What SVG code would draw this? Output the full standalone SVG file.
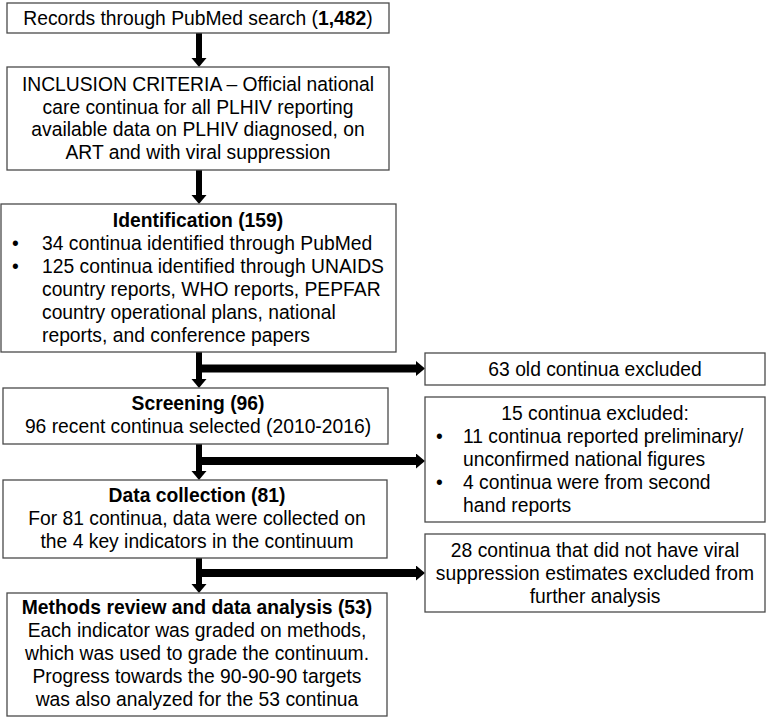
<svg xmlns="http://www.w3.org/2000/svg" width="767" height="720" viewBox="0 0 767 720">
<style>
.box{fill:#fff;stroke:#4a4a4a;stroke-width:1.3}
text{font-family:"Liberation Sans",Arial,sans-serif;font-size:19.3px;fill:#000}
.c{text-anchor:middle}
.b{font-weight:bold}
.v{stroke:#000;stroke-width:6;fill:none}
.h{stroke:#000;stroke-width:8;fill:none}
</style>
<defs>
<marker id="ah" markerUnits="userSpaceOnUse" markerWidth="10" markerHeight="16" refX="0" refY="7.5" orient="auto">
<path d="M0,0 L9,7.5 L0,15 Z" fill="#000"/>
</marker>
</defs>
<rect width="767" height="720" fill="#fff"/>
<g id="connectors">
<line class="v" x1="199" y1="33" x2="199" y2="58" marker-end="url(#ah)"/>
<line class="v" x1="199" y1="170" x2="199" y2="195" marker-end="url(#ah)"/>
<line class="v" x1="199" y1="352" x2="199" y2="379" marker-end="url(#ah)"/>
<line class="h" x1="196" y1="368.5" x2="416" y2="368.5" marker-end="url(#ah)"/>
<line class="v" x1="199" y1="444" x2="199" y2="471" marker-end="url(#ah)"/>
<line class="h" x1="196" y1="461" x2="416" y2="461" marker-end="url(#ah)"/>
<line class="v" x1="199" y1="558" x2="199" y2="584" marker-end="url(#ah)"/>
<line class="h" x1="196" y1="573" x2="416" y2="573" marker-end="url(#ah)"/>
</g>
<g id="records">
<rect class="box" x="7" y="3" width="382" height="30"/>
<text class="c" x="198" y="25">Records through PubMed search (<tspan class="b">1,482</tspan>)</text>
</g>
<g id="inclusion">
<rect class="box" x="7" y="67" width="382" height="103"/>
<text class="c" x="198" y="91">INCLUSION CRITERIA – Official national</text>
<text class="c" x="198" y="113.5">care continua for all PLHIV reporting</text>
<text class="c" x="198" y="136">available data on PLHIV diagnosed, on</text>
<text class="c" x="198" y="158.5">ART and with viral suppression</text>
</g>
<g id="identification">
<rect class="box" x="1" y="204" width="395" height="148"/>
<text class="c b" x="198" y="227">Identification (159)</text>
<text x="12" y="250">•</text><text x="42" y="250">34 continua identified through PubMed</text>
<text x="12" y="273">•</text><text x="42" y="273">125 continua identified through UNAIDS</text>
<text x="42" y="296">country reports, WHO reports, PEPFAR</text>
<text x="42" y="319">country operational plans, national</text>
<text x="42" y="342">reports, and conference papers</text>
</g>
<g id="old-excluded">
<rect class="box" x="425" y="353" width="340" height="32"/>
<text class="c" x="595" y="376">63 old continua excluded</text>
</g>
<g id="screening">
<rect class="box" x="3" y="388" width="385" height="56"/>
<text class="c b" x="198" y="410">Screening (96)</text>
<text class="c" x="198" y="433">96 recent continua selected (2010-2016)</text>
</g>
<g id="excluded-15">
<rect class="box" x="425" y="397" width="340" height="125"/>
<text class="c" x="595" y="420">15 continua excluded:</text>
<text x="436" y="443">•</text><text x="463" y="443">11 continua reported preliminary/</text>
<text x="463" y="466">unconfirmed national figures</text>
<text x="436" y="489">•</text><text x="463" y="489">4 continua were from second</text>
<text x="463" y="512">hand reports</text>
</g>
<g id="data-collection">
<rect class="box" x="3" y="480" width="384" height="78"/>
<text class="c b" x="197" y="502">Data collection (81)</text>
<text class="c" x="197" y="525">For 81 continua, data were collected on</text>
<text class="c" x="197" y="548">the 4 key indicators in the continuum</text>
</g>
<g id="excluded-28">
<rect class="box" x="425" y="534" width="340" height="78"/>
<text class="c" x="595" y="557">28 continua that did not have viral</text>
<text class="c" x="595" y="580">suppression estimates excluded from</text>
<text class="c" x="595" y="603">further analysis</text>
</g>
<g id="methods">
<rect class="box" x="7" y="593" width="380" height="123"/>
<text class="c b" x="197" y="614">Methods review and data analysis (53)</text>
<text class="c" x="197" y="637">Each indicator was graded on methods,</text>
<text class="c" x="197" y="660">which was used to grade the continuum.</text>
<text class="c" x="197" y="683">Progress towards the 90-90-90 targets</text>
<text class="c" x="197" y="706">was also analyzed for the 53 continua</text>
</g>
</svg>
